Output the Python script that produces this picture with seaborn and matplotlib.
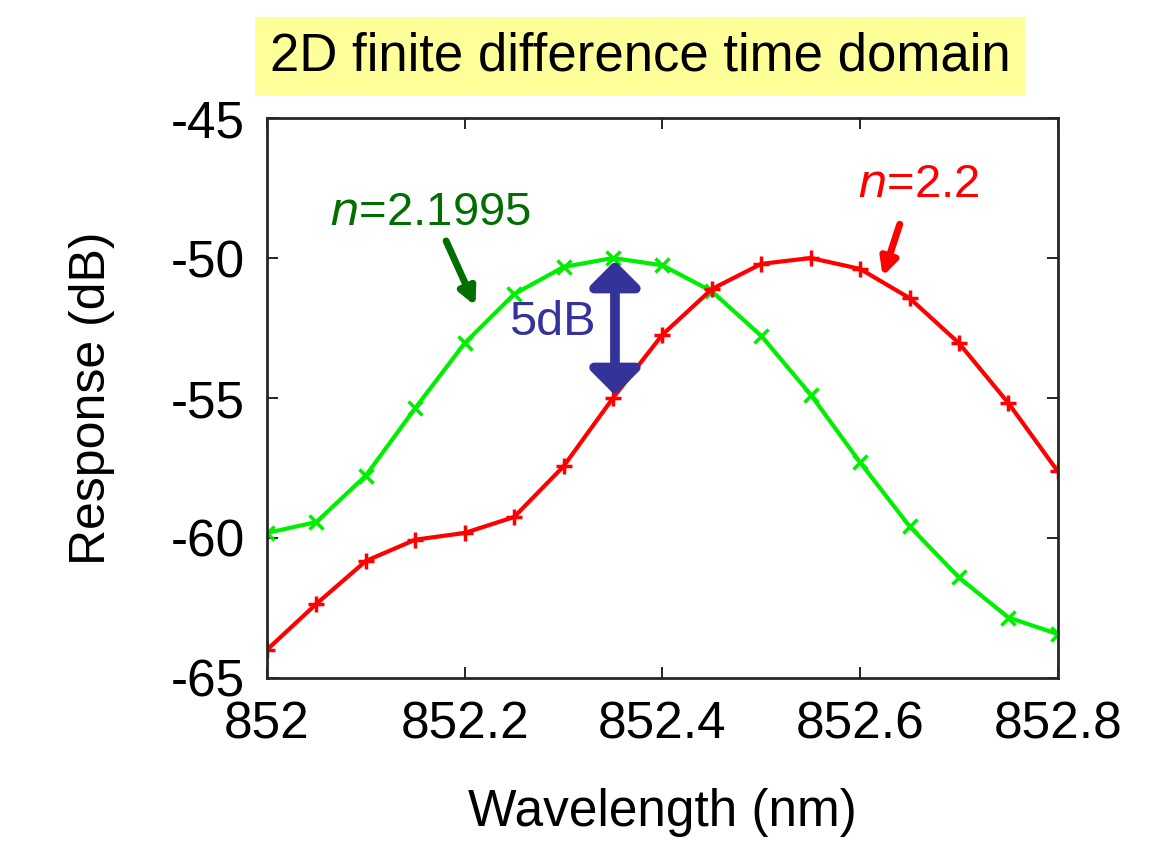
import numpy as np
import pandas as pd
import matplotlib
matplotlib.use("Agg")
import matplotlib.pyplot as plt
import seaborn as sns

wavelength = [852.00, 852.05, 852.10, 852.15, 852.20, 852.25, 852.30, 852.35, 852.40,
              852.45, 852.50, 852.55, 852.60, 852.65, 852.70, 852.75, 852.80]
resp_n21995 = [-59.82, -59.43, -57.77, -55.36, -53.04, -51.29, -50.32, -50.0, -50.26,
               -51.19, -52.78, -54.88, -57.30, -59.58, -61.41, -62.84, -63.43]
resp_n22 = [-63.99, -62.35, -60.82, -60.06, -59.82, -59.25, -57.44, -55.0, -52.74,
            -51.11, -50.21, -50.0, -50.39, -51.43, -53.04, -55.18, -57.62]
xticks = [852, 852.2, 852.4, 852.6, 852.8]
xticklabels = ["852", "852.2", "852.4", "852.6", "852.8"]
yticks = [-65, -60, -55, -50, -45]

sns.set_style("ticks")
plt.rcParams['font.family'] = ['Liberation Sans', 'DejaVu Sans']
plt.rcParams['axes.unicode_minus'] = False
plt.rcParams['text.color'] = 'black'
plt.rcParams['axes.labelcolor'] = 'black'
plt.rcParams['xtick.color'] = 'black'
plt.rcParams['ytick.color'] = 'black'

df = pd.concat([
    pd.DataFrame({"wl": wavelength, "resp": resp_n21995, "series": "n=2.1995"}),
    pd.DataFrame({"wl": wavelength, "resp": resp_n22, "series": "n=2.2"}),
])

fig = plt.figure(figsize=(11.51, 8.46), dpi=100)
ax = fig.add_axes([0.232, 0.1986, 0.687, 0.6619])

sns.lineplot(data=df[df.series == "n=2.1995"], x="wl", y="resp", ax=ax,
             color="#00ee00", lw=3, marker="x", markersize=10, markeredgewidth=2.5,
             markeredgecolor="#00ee00", legend=False)
sns.lineplot(data=df[df.series == "n=2.2"], x="wl", y="resp", ax=ax,
             color="#ff0000", lw=3, marker="+", markersize=11, markeredgewidth=2.5,
             markeredgecolor="#ff0000", legend=False)

ax.set_xlim(852, 852.8)
ax.set_ylim(-65, -45)
ax.set_xticks(xticks)
ax.set_xticklabels(xticklabels)
ax.set_yticks(yticks)
ax.tick_params(direction="in", length=8, width=1.2, top=True, right=True,
               labelsize=37, pad=16)
for s in ax.spines.values():
    s.set_linewidth(2)
ax.set_xlabel("Wavelength (nm)", fontsize=37, labelpad=28)
ax.set_ylabel("Response (dB)", fontsize=36, labelpad=40)

# Title box
fig.text(0.556, 0.933, "2D finite difference time domain", fontsize=38,
         ha="center", va="center",
         bbox=dict(boxstyle="square,pad=0.28", fc="#ffff99", ec="none"))

# annotations
green_dark = "#006e00"
ax.text(852.063, -48.4, r"$\it{n}$=2.1995", color=green_dark, fontsize=34,
        ha="left", va="center")
ax.annotate("", xy=(852.212, -51.8), xytext=(852.18, -49.3),
            arrowprops=dict(arrowstyle="-|>,head_length=1.0,head_width=0.5",
                            color=green_dark, lw=5))
ax.text(852.597, -47.4, r"$\it{n}$=2.2", color="#ff0000", fontsize=34,
        ha="left", va="center")
ax.annotate("", xy=(852.622, -50.75), xytext=(852.641, -48.7),
            arrowprops=dict(arrowstyle="-|>,head_length=1.0,head_width=0.5",
                            color="#ff0000", lw=5))
navy = "#333399"
ax.annotate("", xy=(852.352, -50.1), xytext=(852.352, -54.9),
            arrowprops=dict(arrowstyle="<|-|>,head_length=1.5,head_width=1.5",
                            color=navy, lw=7, shrinkA=0, shrinkB=0))
ax.text(852.332, -52.3, "5dB", color=navy, fontsize=35, ha="right", va="center")

fig.savefig("out.png", dpi=100)
